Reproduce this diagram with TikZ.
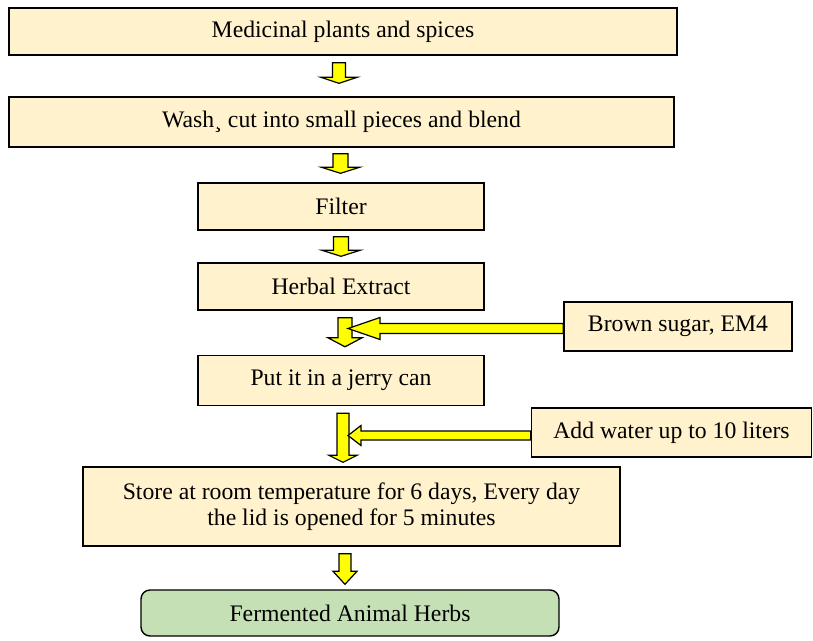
\documentclass[tikz,border=0pt]{standalone}
\usepackage{fontspec}
\setmainfont{Liberation Serif}
\usetikzlibrary{positioning,calc}
\definecolor{cream}{RGB}{255,242,204}
\definecolor{leaf}{RGB}{197,224,180}
\definecolor{blkyellow}{RGB}{255,255,0}

% block arrow pointing down: from, tip, shaft half, head half, head length
\newcommand{\vblk}[5]{%
  \draw[blk] let \p1=(#1), \p2=(#2) in
    (\x1-#3pt,\y1) -- (\x1+#3pt,\y1) -- (\x1+#3pt,\y2+#5pt) -- (\x1+#4pt,\y2+#5pt)
    -- (\x1,\y2) -- (\x1-#4pt,\y2+#5pt) -- (\x1-#3pt,\y2+#5pt) -- cycle;}
% block arrow pointing left: from, tip, shaft half, head half, head length
\newcommand{\hblk}[5]{%
  \draw[blk] let \p1=(#1), \p2=(#2) in
    (\x1,\y2+#3pt) -- (\x1,\y2-#3pt) -- (\x2+#5pt,\y2-#3pt) -- (\x2+#5pt,\y2-#4pt)
    -- (\x2,\y2) -- (\x2+#5pt,\y2+#4pt) -- (\x2+#5pt,\y2+#3pt) -- cycle;}

\begin{document}
\begin{tikzpicture}[x=1pt,y=-1pt,
box/.style={draw,line width=1.4pt,fill=cream,rectangle,inner sep=0pt,align=center,
    font=\fontsize{23.7}{26}\selectfont},
endbox/.style={box,fill=leaf,rounded corners=9pt},
blk/.style={draw,line width=1.2pt,fill=blkyellow,line join=miter}]
\useasboundingbox (0,0) rectangle (813,640);

\node (med) [box,minimum width=668,minimum height=47] at (343,31.5) {Medicinal plants and spices};
\node (wash) [box,minimum width=665,minimum height=50] at (341.5,122) {Wash¸ cut into small pieces and blend};
\node (filter) [box,minimum width=286,minimum height=47] at (341,206.5) {Filter};
\node (herbal) [box,minimum width=286,minimum height=47] at (341,286.5) {Herbal Extract};
\node (jerry) [box,minimum width=286,minimum height=50] at (341,380.5) {Put it in a jerry can};
\node (store) [box,minimum width=537,minimum height=79] at (351.5,506.5)
    {Store at room temperature for 6 days, Every day\\the lid is opened for 5 minutes};
\node (fah) [endbox,minimum width=418,minimum height=46] at (350,613) {Fermented Animal Herbs};

% side inputs
\node (brown) [box,minimum width=228,minimum height=49] at (678,326.5) {Brown sugar, EM4};
\node (water) [box,minimum width=280,minimum height=49] at (671.5,432.5) {Add water up to 10 liters};

% flow arrows
\vblk{$(med.south)+(-4,7)$}{$(wash.north)+(-4,-13)$}{6.5}{18}{6}
\vblk{$(wash.south)+(-1,6)$}{$(filter.north)+(-1,-9)$}{7.5}{19}{6}
\vblk{$(filter.south)+(0,6)$}{$(herbal.north)+(0,-6)$}{7.5}{19}{6}
\vblk{$(herbal.south)+(4,7)$}{$(jerry.north)+(4,-8)$}{7}{17}{9}
\hblk{brown.west}{$(brown.west -| herbal.south)+(7,2)$}{5}{11}{32}
\vblk{$(jerry.south)+(2,7)$}{$(store.north)+(-8.5,-4)$}{6}{14}{7}
\hblk{water.west}{$(water.west -| jerry.south)+(7,3)$}{4.5}{10}{13}
\vblk{$(store.south)+(-6.5,7)$}{$(fah.north)+(-5,-5)$}{6}{12}{13}
\end{tikzpicture}
\end{document}
